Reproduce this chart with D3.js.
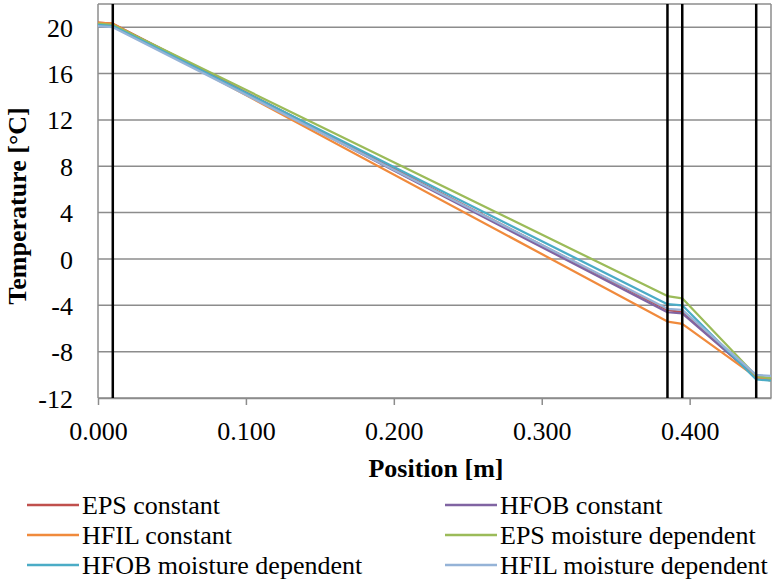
<!DOCTYPE html>
<html>
<head>
<meta charset="utf-8">
<script src="https://cdn.jsdelivr.net/npm/d3@7"></script>
</head>
<body style="margin:0;background:#fff;">
<div id="chart"></div>
<script>
// positions of the readings [m]
var positions = [0.000, 0.010, 0.385, 0.395, 0.445, 0.455];

// temperatures [°C] per series
var epsConstant    = [20.4, 20.3, -4.4, -4.6, -10.2, -10.4];
var hfobConstant   = [20.3, 20.2, -4.6, -4.7, -10.2, -10.4];
var hfilConstant   = [20.4, 20.3, -5.4, -5.6, -10.2, -10.5];
var epsMoisture    = [20.3, 20.2, -3.2, -3.4, -10.1, -10.3];
var hfobMoisture   = [20.2, 20.1, -3.9, -4.0, -10.4, -10.5];
var hfilMoisture   = [20.1, 20.0, -4.3, -4.4, -10.0, -10.1];

var seriesNames  = ["EPS constant", "HFOB constant", "HFIL constant",
                    "EPS moisture dependent", "HFOB moisture dependent", "HFIL moisture dependent"];
var seriesValues = [epsConstant, hfobConstant, hfilConstant, epsMoisture, hfobMoisture, hfilMoisture];
var seriesColors = ["#C0504D", "#8064A2", "#F08A3C", "#9BBB59", "#4BACC6", "#95B3D7"];

// layer boundaries (black vertical lines)
var boundaries = [0.010, 0.385, 0.395, 0.445];

var xTicks = [0, 0.1, 0.2, 0.3, 0.4];
var yTicks = [-12, -8, -4, 0, 4, 8, 12, 16, 20];

var FONT = "'Liberation Serif', 'Times New Roman', serif";

var margin = {left: 98, right: 4, top: 4, bottom: 188};
var width = 775, height = 586;
var innerW = width - margin.left - margin.right;
var innerH = height - margin.top - margin.bottom;

var svg = d3.select("#chart").append("svg")
  .attr("width", width).attr("height", height)
  .attr("font-family", FONT);

var g = svg.append("g")
  .attr("transform", "translate(" + margin.left + "," + margin.top + ")");

var x = d3.scaleLinear().domain([0, 0.455]).range([0, innerW]);
var y = d3.scaleLinear().domain([-12, 22]).range([innerH, 0]);

// grid lines
g.selectAll(".grid").data(yTicks.concat([22])).enter()
  .append("line").attr("class", "grid")
  .attr("x1", 0).attr("x2", innerW)
  .attr("y1", d => y(d)).attr("y2", d => y(d))
  .attr("stroke", "#8c8c8c").attr("stroke-width", 1.5);

// plot border sides
g.append("line").attr("x1", 0).attr("x2", 0).attr("y1", 0).attr("y2", innerH)
  .attr("stroke", "#8c8c8c").attr("stroke-width", 1.5);
g.append("line").attr("x1", innerW).attr("x2", innerW).attr("y1", 0).attr("y2", innerH)
  .attr("stroke", "#8c8c8c").attr("stroke-width", 1.5);

// x axis
var xAxis = d3.axisBottom(x).tickValues(xTicks).tickFormat(d3.format(".3f"))
  .tickSize(7).tickSizeOuter(0);
var xg = g.append("g").attr("transform", "translate(0," + innerH + ")").call(xAxis);
xg.attr("font-family", FONT);
xg.select(".domain").attr("stroke", "#8c8c8c").attr("stroke-width", 1.5);
xg.selectAll(".tick line").attr("stroke", "#8c8c8c").attr("stroke-width", 1.5);
xg.selectAll(".tick text").attr("dy", 0).attr("y", 42)
  .style("font-size", "26px").style("font-family", FONT).attr("fill", "#000");

// y axis labels (minus sign as plain hyphen, like the original)
var yg = g.append("g").call(d3.axisLeft(y).tickValues(yTicks).tickSize(0).tickFormat(d => String(d)));
yg.attr("font-family", FONT);
yg.select(".domain").remove();
yg.selectAll(".tick text").attr("x", -25).attr("dy", "0.35em")
  .style("font-size", "26px").style("font-family", FONT).attr("fill", "#000");

// series lines
var line = d3.line().x((d, i) => x(positions[i])).y(d => y(d));
g.selectAll(".series").data(seriesValues).enter()
  .append("path").attr("class", "series")
  .attr("d", d => line(d))
  .attr("fill", "none")
  .attr("stroke", (d, i) => seriesColors[i])
  .attr("stroke-width", 2.25)
  .attr("stroke-linejoin", "round");

// layer boundaries
g.selectAll(".boundary").data(boundaries).enter()
  .append("line").attr("class", "boundary")
  .attr("x1", d => x(d)).attr("x2", d => x(d))
  .attr("y1", 0).attr("y2", innerH)
  .attr("stroke", "#000").attr("stroke-width", 2.5);

// axis titles
svg.append("text")
  .attr("x", 436).attr("y", 477)
  .attr("text-anchor", "middle")
  .style("font-family", FONT).style("font-size", "26px").style("font-weight", "bold")
  .text("Position [m]");

svg.append("text")
  .attr("transform", "translate(26,206) rotate(-90)")
  .attr("text-anchor", "middle")
  .style("font-family", FONT).style("font-size", "26px").style("font-weight", "bold")
  .text("Temperature [°C]");

// legend, two columns filled row by row
var legend = svg.selectAll(".legend").data(seriesNames).enter()
  .append("g").attr("class", "legend")
  .attr("transform", (d, i) => "translate(" + (i % 2 === 0 ? 27 : 445) + "," + (505 + Math.floor(i / 2) * 30) + ")");

legend.append("line")
  .attr("x1", 0).attr("x2", 52).attr("y1", 0).attr("y2", 0)
  .attr("stroke", (d, i) => seriesColors[i]).attr("stroke-width", 2.5);

legend.append("text")
  .attr("x", 55).attr("y", 0).attr("dy", "0.33em")
  .style("font-family", FONT).style("font-size", "26px")
  .text(d => d);
</script>
</body>
</html>
